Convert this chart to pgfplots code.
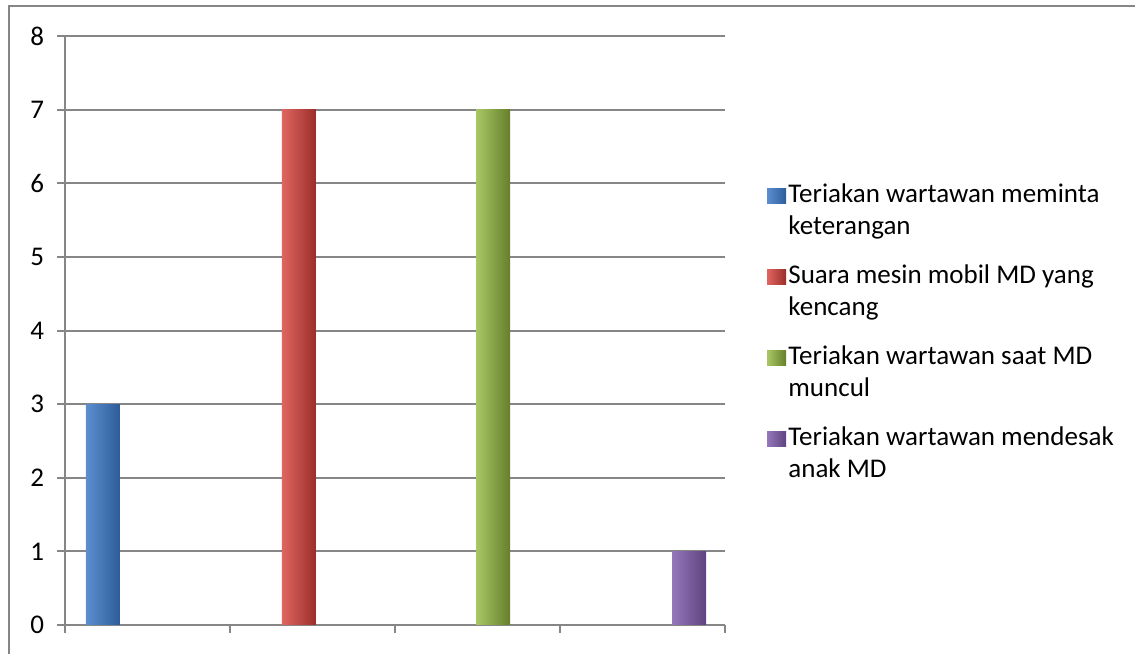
\documentclass[border=0pt]{standalone}
\usepackage{fontspec}
\setmainfont{Carlito}
\usepackage{pgfplots}
\pgfplotsset{compat=1.18}
\definecolor{gridgray}{HTML}{868686}
\definecolor{blueL}{HTML}{5B8FD0}
\definecolor{blueD}{HTML}{2E5C99}
\definecolor{redL}{HTML}{E06560}
\definecolor{redD}{HTML}{9A2E2B}
\definecolor{greenL}{HTML}{A9C864}
\definecolor{greenD}{HTML}{657F2B}
\definecolor{purpL}{HTML}{9478BA}
\definecolor{purpD}{HTML}{5E4380}
\begin{document}
\begin{tikzpicture}[lg/.style={anchor=base west, inner sep=0pt, text=black, font=\fontsize{13.5bp}{16bp}\selectfont}]
\useasboundingbox (0,0) rectangle (567.5bp,327bp);
\fill[white] (0,0) rectangle (567.5bp,327bp);
\draw[gridgray, line width=1bp] (4.5bp,-10bp) -- (4.5bp,324bp) -- (600bp,324bp);
\begin{axis}[
  at={(32.5bp,14.5bp)}, anchor=south west,
  scale only axis, width=330bp, height=294.5bp,
  xmin=0, xmax=4, ymin=0, ymax=8,
  xtick={0,1,2,3,4}, xticklabels={},
  ytick={0,1,...,8},
  axis lines*=left,
  axis line style={gridgray, line width=1bp},
  tick style={gridgray, line width=1bp},
  tick align=outside, major tick length=4bp,
  ymajorgrids, grid style={gridgray, line width=1bp},
  /pgf/number format/assume math mode=true,
  ticklabel style={font=\fontsize{13.5bp}{16bp}\selectfont, text=black},
  yticklabel style={xshift=-3bp},
  ybar, bar width=17bp, bar shift=0pt,
]
\addplot[draw=none, left color=blueL, right color=blueD] coordinates {(0.23,3)};
\addplot[draw=none, left color=redL, right color=redD] coordinates {(1.418,7)};
\addplot[draw=none, left color=greenL, right color=greenD] coordinates {(2.594,7)};
\addplot[draw=none, left color=purpL, right color=purpD] coordinates {(3.782,1)};
\end{axis}
% legend
\path[left color=blueL, right color=blueD] (383.5bp,225bp) rectangle (393bp,232.5bp);
\node[lg] at (394bp,225.5bp) {Teriakan wartawan meminta};
\node[lg] at (394bp,209.5bp) {keterangan};
\path[left color=redL, right color=redD] (383.5bp,184.5bp) rectangle (393bp,192bp);
\node[lg] at (394bp,185bp) {Suara mesin mobil MD yang};
\node[lg] at (394bp,169bp) {kencang};
\path[left color=greenL, right color=greenD] (383.5bp,144bp) rectangle (393bp,151.5bp);
\node[lg] at (394bp,144.5bp) {Teriakan wartawan saat MD};
\node[lg] at (394bp,128.5bp) {muncul};
\path[left color=purpL, right color=purpD] (383.5bp,103.5bp) rectangle (393bp,111bp);
\node[lg] at (394bp,104bp) {Teriakan wartawan mendesak};
\node[lg] at (394bp,88bp) {anak MD};
\end{tikzpicture}
\end{document}
